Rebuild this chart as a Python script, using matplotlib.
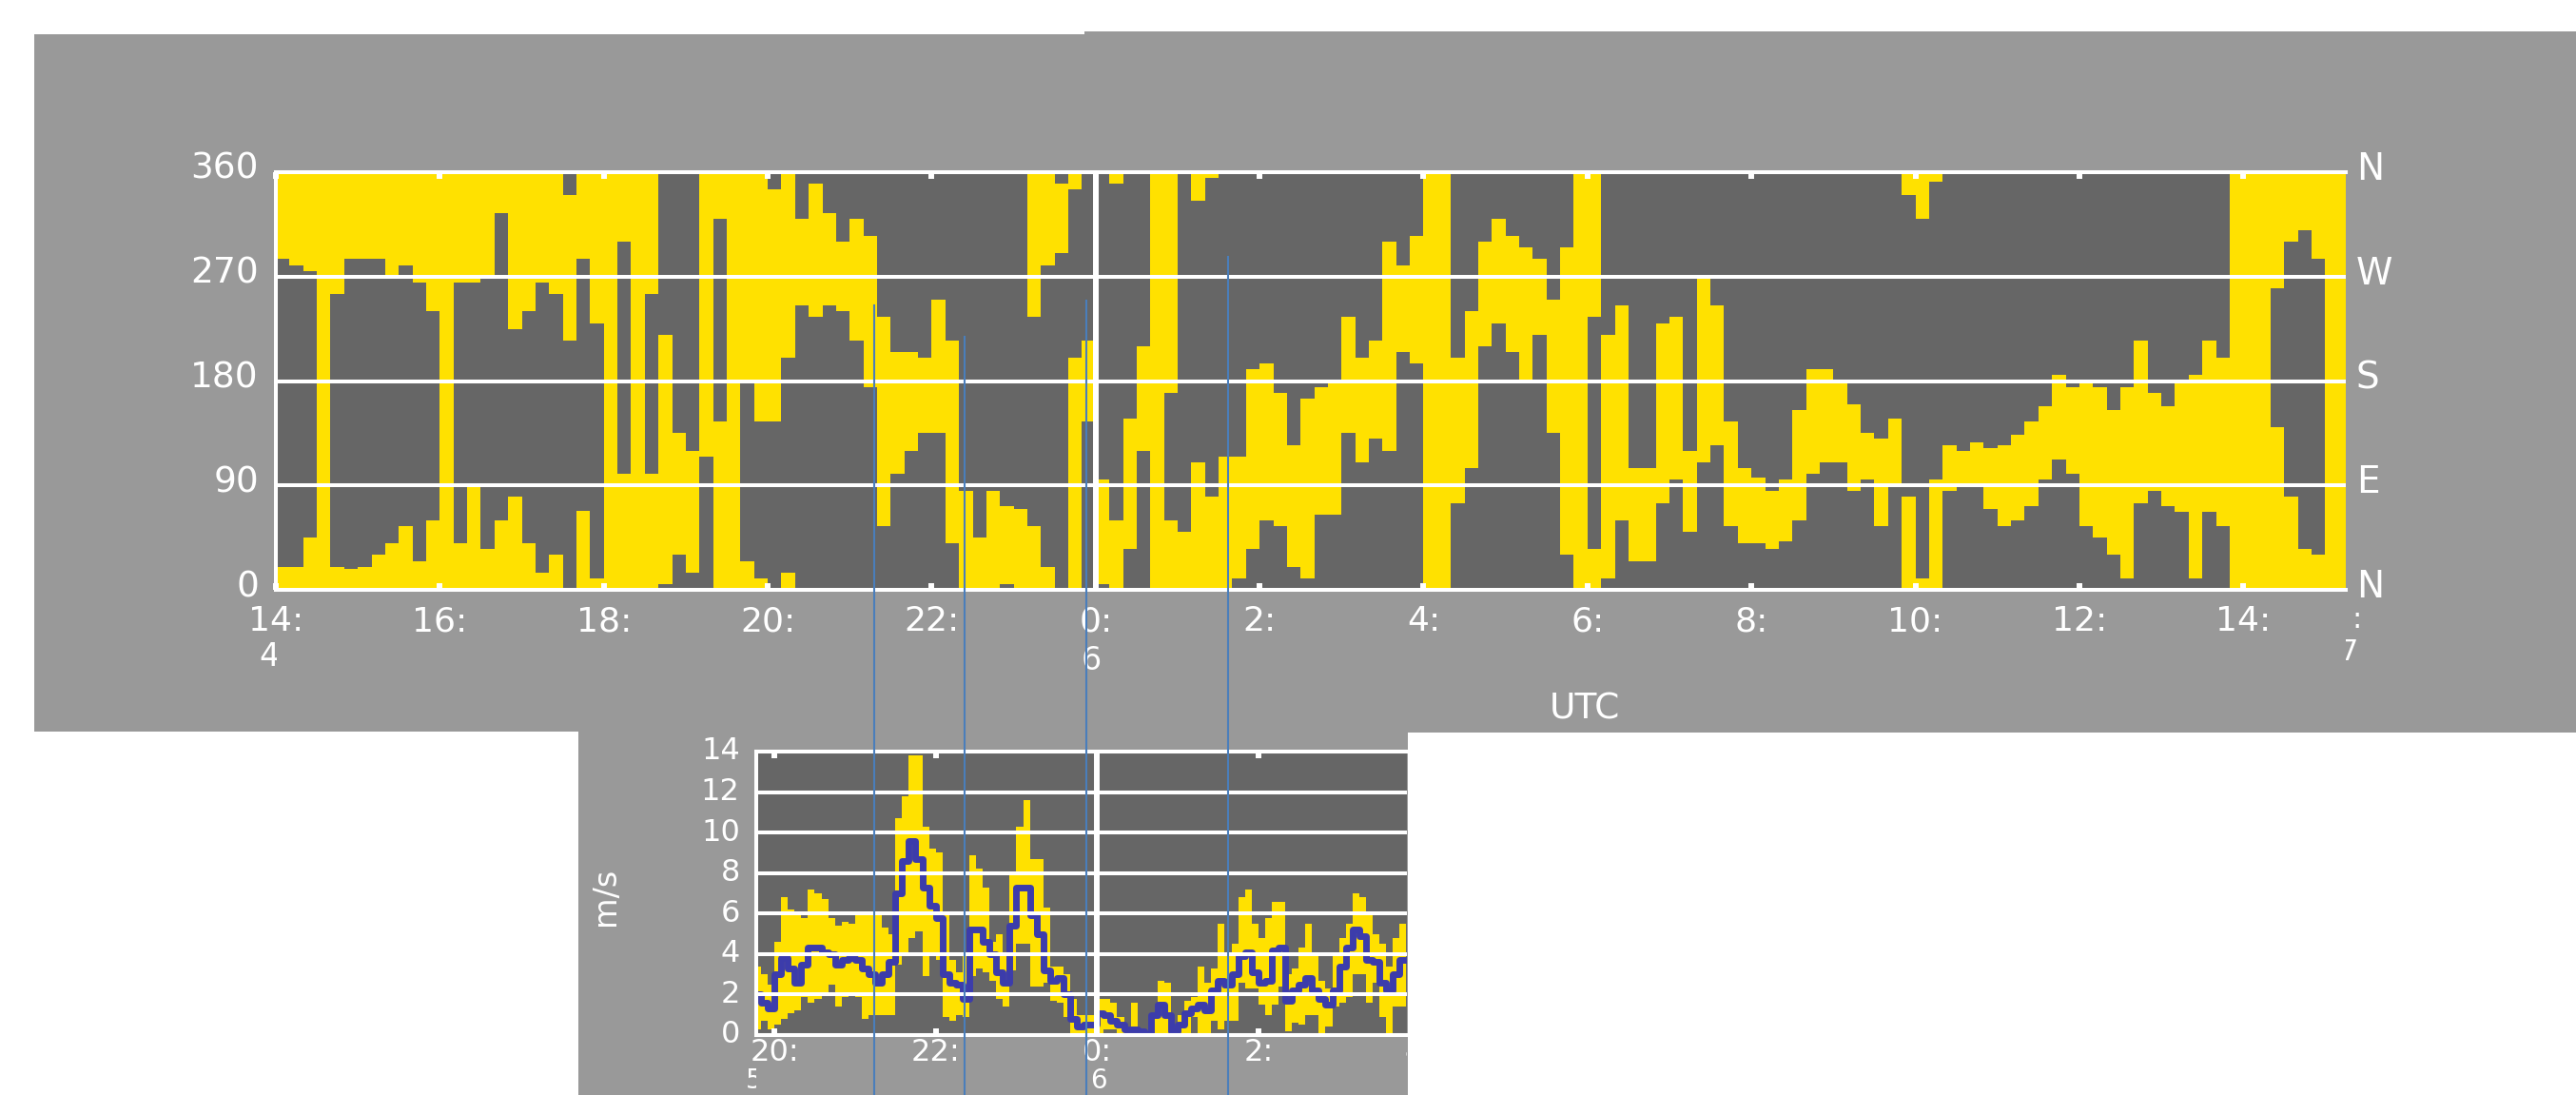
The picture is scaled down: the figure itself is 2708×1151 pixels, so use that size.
import numpy as np
import matplotlib
matplotlib.use('Agg')
import matplotlib.pyplot as plt
from matplotlib.patches import Rectangle
from matplotlib.lines import Line2D
from matplotlib.transforms import Bbox, TransformedBbox, offset_copy

W, H = 2708, 1151

PANEL = '#999999'
PLOT_BG = '#666666'
YELLOW = '#ffe100'
NAVY = '#3c3cab'
GUIDE = '#4a7ebb'

# wind direction range, 10 min bins from 14:00 UTC (lo > hi -> range wraps through north)
dir_lo = [285, 280, 275, 0, 255, 285, 285, 285, 270, 280,
          265, 240, 0, 265, 265, 270, 325, 225, 240, 265,
          255, 215, 285, 230, 0, 300, 0, 255, 5, 30,
          15, 115, 320, 0, 180, 145, 145, 200, 245, 235,
          245, 240, 215, 175, 55, 100, 120, 135, 135, 40,
          0, 0, 0, 5, 0, 235, 280, 290, 345, 145,
          5, 350, 35, 120, 0, 170, 0, 335, 355, 0,
          10, 35, 60, 55, 20, 10, 65, 65, 135, 110,
          130, 120, 205, 195, 0, 0, 75, 105, 210, 230,
          205, 180, 220, 135, 30, 0, 235, 10, 60, 25,
          25, 75, 95, 50, 110, 125, 55, 40, 40, 35,
          42, 60, 100, 110, 110, 85, 95, 55, 90, 340,
          320, 352, 85, 90, 90, 70, 55, 60, 72, 95,
          112, 100, 55, 45, 30, 10, 75, 85, 72, 67,
          10, 67, 55, 0, 0, 0, 260, 300, 310, 285,
          0, 0]
dir_hi = [20, 20, 45, 360, 20, 18, 20, 30, 40, 55,
          25, 60, 360, 40, 90, 35, 60, 80, 40, 15,
          30, 340, 68, 10, 360, 100, 360, 100, 220, 135,
          120, 360, 145, 360, 25, 10, 345, 15, 320, 350,
          325, 300, 320, 305, 235, 205, 205, 200, 250, 215,
          85, 45, 85, 72, 70, 55, 20, 350, 200, 215,
          95, 60, 148, 210, 360, 60, 50, 110, 80, 115,
          115, 190, 195, 170, 125, 165, 175, 180, 235, 200,
          215, 300, 280, 305, 360, 360, 200, 240, 300, 320,
          305, 295, 285, 250, 295, 360, 35, 220, 245, 105,
          105, 230, 235, 120, 268, 245, 145, 105, 97, 85,
          95, 155, 190, 190, 180, 160, 135, 130, 148, 80,
          10, 95, 125, 120, 127, 122, 125, 134, 145, 158,
          185, 175, 178, 175, 155, 175, 215, 170, 158, 180,
          185, 215, 200, 360, 360, 360, 140, 80, 35, 30,
          360, 360]

# wind speed (m/s), 5 min bins from 19:45 UTC
spd_min = [0.3, 0.7, 0.3, 0.5, 0.8, 1.1, 1.2, 1.9, 1.6, 1.8,
           2.1, 2.5, 1.4, 1.9, 2.0, 1.9, 0.8, 1.0, 1.0, 1.0,
           1.0, 3.5, 4.1, 4.8, 5.1, 2.9, 4.0, 3.7, 0.9, 0.7,
           1.0, 0.9, 2.9, 3.3, 3.1, 2.7, 1.8, 1.4, 3.2, 4.5,
           4.5, 2.4, 2.4, 2.6, 1.7, 1.6, 0.9, 0.1, 0.1, 0.1,
           0.1, 0.1, 0.3, 0.3, 0.1, 0.1, 0.05, 0.05, 0.0, 0.1,
           0.1, 0.1, 0.05, 0.05, 0.1, 0.9, 0.1, 0.1, 0.7, 0.3,
           0.7, 0.7, 2.6, 2.3, 2.3, 1.5, 1.0, 1.5, 2.4, 0.2,
           0.6, 0.5, 1.0, 1.0, 0.1, 0.4, 1.4, 1.6, 1.9, 3.0,
           3.0, 1.6, 2.6, 0.9, 0.1, 1.4, 1.4]
spd_mean = [2.0, 1.6, 1.3, 3.0, 3.8, 3.3, 2.6, 3.5, 4.3, 4.3,
            4.1, 4.0, 3.5, 3.7, 3.8, 3.7, 3.3, 3.0, 2.6, 3.0,
            3.6, 7.0, 8.6, 9.6, 8.7, 7.3, 6.4, 5.8, 3.0, 2.6,
            2.5, 1.8, 5.2, 5.2, 4.6, 4.0, 3.1, 2.6, 5.4, 7.3,
            7.3, 5.9, 5.0, 3.2, 2.7, 2.8, 2.0, 0.8, 0.4, 0.5,
            0.5, 1.1, 1.0, 0.7, 0.5, 0.3, 0.3, 0.2, 0.05, 1.0,
            1.5, 1.0, 0.2, 0.5, 1.1, 1.3, 1.5, 1.2, 2.2, 2.7,
            2.5, 3.0, 3.9, 4.1, 3.1, 2.6, 2.7, 4.2, 4.3, 1.7,
            2.2, 2.5, 2.8, 2.2, 1.8, 1.5, 2.2, 3.4, 4.3, 5.2,
            4.9, 3.7, 3.6, 2.6, 2.2, 3.0, 3.7]
spd_max = [3.4, 3.0, 2.5, 4.6, 6.8, 6.2, 6.1, 5.8, 7.2, 7.0,
           6.7, 5.8, 5.4, 5.6, 5.5, 5.9, 5.9, 5.9, 5.9, 5.3,
           5.0, 10.7, 11.8, 13.8, 13.8, 10.3, 9.2, 9.0, 6.1, 3.7,
           3.1, 4.1, 8.9, 8.2, 7.3, 4.6, 5.0, 4.1, 8.0, 10.3,
           11.6, 8.7, 8.7, 6.3, 3.4, 3.4, 3.0, 1.8, 1.0, 1.0,
           1.0, 1.8, 1.8, 1.6, 0.9, 0.4, 1.6, 0.3, 0.1, 1.1,
           2.7, 2.6, 0.3, 1.0, 1.7, 1.9, 3.4, 2.6, 3.3, 5.5,
           4.1, 4.5, 6.8, 7.2, 5.5, 4.8, 5.8, 6.6, 6.6, 3.0,
           3.3, 4.3, 5.5, 4.1, 2.7, 2.3, 3.9, 4.8, 5.5, 7.0,
           6.8, 5.9, 5.0, 4.5, 3.4, 4.8, 5.5]

dir_ticks = [0, 90, 180, 270, 360]
compass = ['N', 'E', 'S', 'W', 'N']
hour_ticks = [0, 2, 4, 6, 8, 10, 12, 14, 16, 18, 20, 22, 24]   # hours after 14:00
hour_labels = ['14:', '16:', '18:', '20:', '22:', '0:', '2:', '4:',
               '6:', '8:', '10:', '12:', '14:']
spd_ticks = [0, 2, 4, 6, 8, 10, 12, 14]
spd_hours = [6, 8, 10, 12, 14]
spd_hour_labels = ['20:', '22:', '0:', '2:', '4:']

# markers dropped from the direction plot down through the speed plot
guide_hours = [7.30, 8.40, 9.89, 11.62]
guide_dirs = [245, 218, 249, 287]

plt.rcParams['font.family'] = ['DejaVu Sans']


def px_rect(x0, y0, x1, y1):
    return [x0 / W, 1 - y1 / H, (x1 - x0) / W, (y1 - y0) / H]


def clip_x(fig, txt, x0, x1):
    txt.set_clip_box(TransformedBbox(Bbox.from_extents(x0 / W, 0, x1 / W, 1),
                                     fig.transFigure))
    txt.set_clip_on(True)


def style_axes(ax):
    ax.set_facecolor(PLOT_BG)
    ax.set_axisbelow(False)
    for side in ['top', 'bottom', 'left']:
        ax.spines[side].set_color('white')
        ax.spines[side].set_linewidth(2.9)
    ax.spines['right'].set_visible(False)
    ax.tick_params(axis='x', direction='in', top=True, bottom=True,
                   length=5, width=4.3, color='white',
                   labelbottom=False)
    ax.tick_params(axis='y', length=0, labelleft=False)
    ax.yaxis.grid(True, color='white', linewidth=2.9)


fig = plt.figure(figsize=(W / 100, H / 100), dpi=100, facecolor='white')

for x0, y0, x1, y1 in [(36, 36, 1140, 769), (1140, 33, 2708, 770),
                       (608, 768, 1480, 1151)]:
    fig.add_artist(Rectangle((x0 / W, 1 - y1 / H), (x1 - x0) / W, (y1 - y0) / H,
                             transform=fig.transFigure, facecolor=PANEL,
                             edgecolor='none', zorder=-5))

# --- wind direction ---
ax1 = fig.add_axes(px_rect(290, 181, 2466, 620))
style_axes(ax1)
lo = np.array(dir_lo, float)
hi = np.array(dir_hi, float)
t = np.arange(len(lo)) / 6
wrap = lo > hi
top = np.where(wrap, 360, hi)
ax1.bar(t, top - lo, bottom=lo, width=1 / 6, align='edge', color=YELLOW,
        linewidth=0, antialiased=False, zorder=1)
ax1.bar(t[wrap], hi[wrap], bottom=0, width=1 / 6, align='edge', color=YELLOW,
        linewidth=0, antialiased=False, zorder=1)
ax1.axvline(10, color='white', linewidth=4.3, zorder=3)
ax1.set_xlim(0.03, 25.25)
ax1.set_ylim(0, 360)
ax1.set_xticks(hour_ticks)
ax1.set_yticks(dir_ticks)

for h, lab in zip(hour_ticks, hour_labels):
    ax1.text(h, -0.0752, lab, transform=ax1.get_xaxis_transform(), color='white',
             fontsize=26, ha='center', va='center')
ylab_tr = offset_copy(ax1.get_yaxis_transform(), fig=fig, y=3, units='dots')
for v in dir_ticks:
    ax1.text(-0.0083, v, str(v), transform=ylab_tr,
             color='white', fontsize=27, ha='right', va='center')
for v, lab in zip(dir_ticks, compass):
    ax1.text(1.005, v, lab, transform=ylab_tr,
             color='white', fontsize=28, ha='left', va='center')

fig.text(1147 / W, 1 - 695 / H, '6', color='white', fontsize=24,
         ha='center', va='center')
d4 = fig.text(272 / W, 1 - 690 / H, '4', color='white', fontsize=24,
              ha='left', va='center')
clip_x(fig, d4, 0, 291)
d7 = fig.text(2459 / W, 1 - 686 / H, '7', color='white', fontsize=22,
              ha='left', va='center')
clip_x(fig, d7, 2466, W)
fig.text(2478 / W, 1 - 652 / H, ':', color='white', fontsize=22,
         ha='center', va='center')
fig.text(1666 / W, 1 - 746 / H, 'UTC', color='white', fontsize=27,
         ha='center', va='center')

# --- wind speed ---
ax2 = fig.add_axes(px_rect(795, 790, 1479, 1088))
style_axes(ax2)
ts = 5.75 + np.arange(len(spd_min)) / 12
smin = np.array(spd_min)
smax = np.array(spd_max)
ax2.bar(ts, smax - smin, bottom=smin, width=1 / 12, align='edge', color=YELLOW,
        linewidth=0, antialiased=False, zorder=1)
edges = 5.75 + np.arange(len(spd_mean) + 1) / 12
ax2.step(edges, spd_mean + spd_mean[-1:], where='post', color=NAVY,
         linewidth=5, zorder=2)
ax2.axvline(10, color='white', linewidth=4.3, zorder=3)
ax2.set_xlim(5.775, 13.842)
ax2.set_ylim(0, 14)
ax2.set_xticks(spd_hours[:-1])
ax2.set_yticks(spd_ticks)

for h, lab in zip(spd_hours, spd_hour_labels):
    txt = ax2.text(h, -0.062, lab, transform=ax2.get_xaxis_transform(),
                   color='white', fontsize=23, ha='center', va='center')
    clip_x(fig, txt, 0, 1479)
for v in spd_ticks:
    ax2.text(-0.025, v, str(v), transform=ax2.get_yaxis_transform(),
             color='white', fontsize=23, ha='right', va='center')
fig.text(637 / W, 1 - 942 / H, 'm/s', color='white', fontsize=24,
         rotation=90, ha='center', va='center')
fig.text(1155 / W, 1 - 1136 / H, '6', color='white', fontsize=20,
         ha='center', va='center')
d5 = fig.text(784 / W, 1 - 1136 / H, '5', color='white', fontsize=20,
              ha='left', va='center')
clip_x(fig, d5, 0, 795)

# guide lines from the direction plot down to the bottom edge
for gh, gd in zip(guide_hours, guide_dirs):
    xd, yd = ax1.transData.transform((gh, gd))
    xf, yf = fig.transFigure.inverted().transform((xd, yd))
    fig.add_artist(Line2D([xf, xf], [yf, 0], transform=fig.transFigure,
                          color=GUIDE, linewidth=1.5, zorder=5))

fig.savefig('out.png', dpi=100, facecolor='white')
